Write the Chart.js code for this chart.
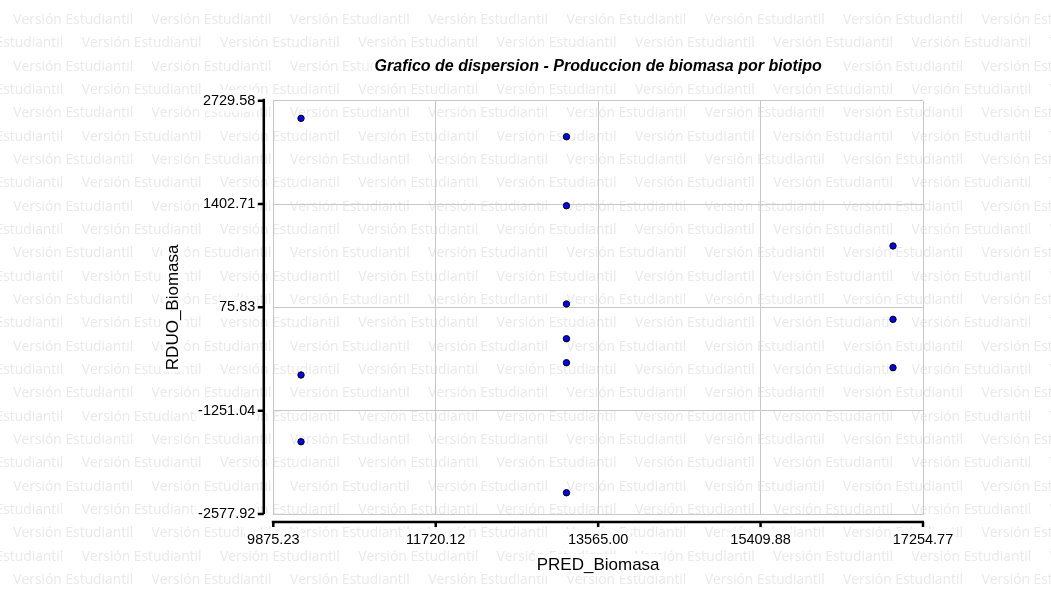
<!DOCTYPE html>
<html>
<head>
<meta charset="utf-8">
<script src="https://cdn.jsdelivr.net/npm/chart.js@4.4.1/dist/chart.umd.min.js"></script>
<style>
  html, body { margin: 0; padding: 0; background: #fff; }
  #wrap { width: 1051px; height: 594px; }
</style>
</head>
<body>
<div id="wrap"><canvas id="scatter" width="1051" height="594"></canvas></div>
<script>
// Data
const predBiomasa = [10190, 13205, 13205, 13205, 13205, 13205, 10190, 10190, 13205, 16914, 16914, 16914];
const rduoBiomasa = [2503, 2267, 1381, 119, -327, -635, -793, -1650, -2305, 864, -78, -699];
const xTicks = [9875.23, 11720.12, 13565.00, 15409.88, 17254.77];
const yTicks = [-2577.92, -1251.04, 75.83, 1402.71, 2729.58];

const chartTitle = 'Grafico de dispersion - Produccion de biomasa por biotipo';
const xTitle = 'PRED_Biomasa';
const yTitle = 'RDUO_Biomasa';
const wmText = 'Versión Estudiantil';

const FONT = "'Liberation Sans', Arial, sans-serif";
Chart.defaults.font.family = FONT;
Chart.defaults.color = '#000';

// Watermark in the background + white boxes behind the titles
const watermark = {
    id: 'watermark',
    beforeDraw(chart) {
        const { ctx, chartArea: a } = chart;
        ctx.save();
        ctx.fillStyle = '#fff';
        ctx.fillRect(0, 0, chart.width, chart.height);

        ctx.font = "13px 'Open Sans'";
        const size = 13 * 120 / ctx.measureText(wmText).width;
        ctx.font = size + "px 'Open Sans'";
        ctx.fillStyle = '#e9e9e9';
        ctx.textBaseline = 'middle';
        const step = 138.3;
        for (let k = 0; 20 + k * 23.33 < chart.height + 12; k++) {
            const y = 20 + k * 23.33;
            for (let x = (k % 2 ? 81.7 : 13.3) - step; x < chart.width; x += step) {
                ctx.fillText(wmText, x, y);
            }
        }

        // white patches where the titles sit
        ctx.fillStyle = '#fff';
        const cx = (a.left + a.right) / 2;
        ctx.font = 'italic bold 16px ' + FONT;
        let w = ctx.measureText(chartTitle).width;
        ctx.fillRect(cx - w / 2 - 2, 67 - 10, w + 4, 20);
        ctx.font = '17px ' + FONT;
        w = ctx.measureText(xTitle).width;
        ctx.fillRect(cx - w / 2 - 2, 565 - 11, w + 4, 22);
        w = ctx.measureText(yTitle).width;
        const cy = (a.top + a.bottom) / 2;
        ctx.fillRect(173.5 - 11, cy - w / 2 - 2, 22, w + 4);
        ctx.restore();
    }
};

// Offset black axis lines with tick marks
const offsetAxes = {
    id: 'offsetAxes',
    afterDraw(chart) {
        const { ctx, chartArea: a, scales: { x, y } } = chart;
        const ax = a.left - 9.5;
        const ay = a.bottom + 8;
        ctx.save();
        ctx.strokeStyle = '#000';
        ctx.lineWidth = 2.5;
        ctx.beginPath();
        ctx.moveTo(ax, a.top - 2);
        ctx.lineTo(ax, a.bottom);
        y.ticks.forEach(t => {
            const py = y.getPixelForValue(t.value);
            ctx.moveTo(ax - 6, py);
            ctx.lineTo(ax, py);
        });
        ctx.moveTo(a.left - 1.5, ay);
        ctx.lineTo(a.right + 1, ay);
        x.ticks.forEach(t => {
            const px = x.getPixelForValue(t.value);
            ctx.moveTo(px, ay);
            ctx.lineTo(px, ay + 5);
        });
        ctx.stroke();
        ctx.restore();
    }
};

const ctx = document.getElementById('scatter').getContext('2d');
new Chart(ctx, {
    type: 'scatter',
    data: {
        datasets: [{
            data: predBiomasa.map((v, i) => ({ x: v, y: rduoBiomasa[i] })),
            backgroundColor: '#0000ff',
            borderColor: '#000',
            borderWidth: 1,
            pointRadius: 3.2,
            pointHoverRadius: 3.2
        }]
    },
    options: {
        responsive: false,
        animation: false,
        events: [],
        layout: { padding: { left: 0, right: 128, top: 0, bottom: 0 } },
        plugins: {
            legend: { display: false },
            tooltip: { enabled: false },
            title: {
                display: true,
                text: chartTitle,
                fullSize: false,
                color: '#000',
                font: { size: 16, weight: 'bold', style: 'italic' },
                padding: { top: 57.4, bottom: 24.1 }
            }
        },
        scales: {
            x: {
                type: 'linear',
                min: xTicks[0],
                max: xTicks[xTicks.length - 1],
                afterBuildTicks: s => { s.ticks = xTicks.map(v => ({ value: v })); },
                afterFit: s => { s.height = 80; },
                grid: { color: '#c8c8c8', lineWidth: 1, drawTicks: false },
                border: { display: true, color: '#c8c8c8' },
                ticks: {
                    padding: 17,
                    font: { size: 14.5 },
                    maxRotation: 0,
                    autoSkip: false,
                    showLabelBackdrop: true,
                    backdropColor: '#fff',
                    backdropPadding: 2,
                    callback: v => v.toFixed(2)
                },
                title: {
                    display: true,
                    text: xTitle,
                    font: { size: 17 },
                    padding: { top: 0, bottom: 18.8 }
                }
            },
            y: {
                type: 'linear',
                min: yTicks[0],
                max: yTicks[yTicks.length - 1],
                afterBuildTicks: s => { s.ticks = yTicks.map(v => ({ value: v })); },
                afterFit: s => { s.width = 273.3; },
                grid: { color: '#c8c8c8', lineWidth: 1, drawTicks: false },
                border: { display: true, color: '#c8c8c8' },
                ticks: {
                    padding: 18,
                    font: { size: 14.5 },
                    autoSkip: false,
                    showLabelBackdrop: true,
                    backdropColor: '#fff',
                    backdropPadding: 2,
                    callback: v => v.toFixed(2)
                },
                title: {
                    display: true,
                    text: yTitle,
                    font: { size: 17 },
                    padding: { top: 163.3, bottom: 0 }
                }
            }
        }
    },
    plugins: [watermark, offsetAxes]
});
</script>
</body>
</html>
